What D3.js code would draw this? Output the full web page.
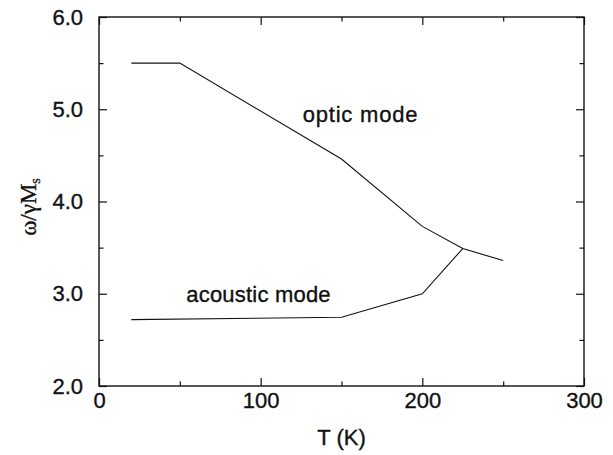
<!DOCTYPE html>
<html>
<head>
<meta charset="utf-8">
<script src="https://cdn.jsdelivr.net/npm/d3@7"></script>
<style>
  body { margin: 0; background: #fff; }
  svg text { font-family: "Liberation Sans", Arial, sans-serif; fill: #111; stroke: #111; stroke-width: 0.35px; }
  .line { fill: none; stroke: #111; stroke-width: 1.1; }
  .tick line { stroke: #111; stroke-width: 1.2; }
</style>
</head>
<body>
<div id="chart"></div>
<script>
// data
const opticT = [20, 50, 150, 200, 225, 250];
const opticW = [5.5, 5.5, 4.46, 3.73, 3.49, 3.36];
const acousticT = [20, 150, 200, 225];
const acousticW = [2.72, 2.745, 3.0, 3.49];

const xTicks = [0, 100, 200, 300];
const xMinor = [50, 150, 250];
const yTicks = [2.0, 3.0, 4.0, 5.0, 6.0];
const yMinor = [2.5, 3.5, 4.5, 5.5];

const labels = [
    { text: "optic mode", t: 126, w: 4.86 },
    { text: "acoustic mode", t: 54, w: 2.914 }
];

const margin = { top: 17, right: 29, bottom: 69, left: 99 };
const width = 613 - margin.left - margin.right;
const height = 455 - margin.top - margin.bottom;

const svg = d3.select("#chart")
    .append("svg")
    .attr("width", 613)
    .attr("height", 455)
    .append("g")
    .attr("transform", `translate(${margin.left},${margin.top})`);

const x = d3.scaleLinear().domain([0, 300]).range([0, width]);
const y = d3.scaleLinear().domain([2, 6]).range([height, 0]);

// axes, ticks pointing inward, on all four sides
function addAxis(axis, transform, showLabels) {
    const g = svg.append("g").attr("transform", transform).call(axis);
    g.select(".domain").remove();
    if (!showLabels) g.selectAll("text").remove();
    g.selectAll("text").style("font-size", "22px").attr("fill", "#111");
    return g;
}

addAxis(d3.axisBottom(x).tickValues(xTicks).tickSize(-8).tickPadding(6).tickFormat(d3.format("d")),
    `translate(0,${height})`, true);
addAxis(d3.axisBottom(x).tickValues(xMinor).tickSize(-4.5), `translate(0,${height})`, false);
addAxis(d3.axisTop(x).tickValues(xTicks).tickSize(-8), "translate(0,0)", false);
addAxis(d3.axisTop(x).tickValues(xMinor).tickSize(-4.5), "translate(0,0)", false);

addAxis(d3.axisLeft(y).tickValues(yTicks).tickSize(-8).tickPadding(16).tickFormat(d3.format(".1f")),
    "translate(0,0)", true);
addAxis(d3.axisLeft(y).tickValues(yMinor).tickSize(-4.5), "translate(0,0)", false);
addAxis(d3.axisRight(y).tickValues(yTicks).tickSize(-8), `translate(${width},0)`, false);
addAxis(d3.axisRight(y).tickValues(yMinor).tickSize(-4.5), `translate(${width},0)`, false);

// frame
svg.append("rect")
    .attr("width", width)
    .attr("height", height)
    .attr("fill", "none")
    .attr("stroke", "#111")
    .attr("stroke-width", 1.4);

const line = d3.line()
    .x(d => x(d[0]))
    .y(d => y(d[1]));

svg.append("path")
    .datum(d3.zip(opticT, opticW))
    .attr("class", "line")
    .attr("d", line);

svg.append("path")
    .datum(d3.zip(acousticT, acousticW))
    .attr("class", "line")
    .attr("d", line);

// curve labels
svg.selectAll(".mode")
    .data(labels)
    .enter()
    .append("text")
    .attr("class", "mode")
    .attr("x", d => x(d.t))
    .attr("y", d => y(d.w))
    .style("font-size", "22px")
    .style("letter-spacing", d => d.text === "optic mode" ? "0.8px" : "0.2px")
    .text(d => d.text);

// axis titles
svg.append("text")
    .attr("x", width / 2)
    .attr("y", height + 59)
    .style("text-anchor", "middle")
    .style("font-size", "22px")
    .text("T (K)");

const yTitle = svg.append("text")
    .attr("transform", `translate(${36 - margin.left},${207 - margin.top}) rotate(-90)`)
    .style("text-anchor", "middle")
    .style("font-family", "'Liberation Serif', 'Times New Roman', serif")
    .style("font-size", "23px");
yTitle.append("tspan").text("ω/γM");
yTitle.append("tspan")
    .attr("dy", "0.25em")
    .style("font-size", "14px")
    .text("s");
</script>
</body>
</html>
